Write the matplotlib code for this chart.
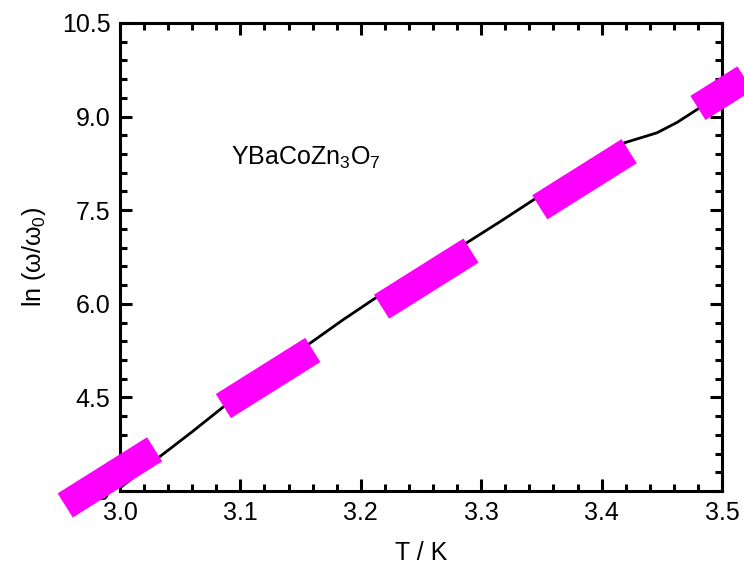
import numpy as np
import matplotlib
matplotlib.use("Agg")
import matplotlib.pyplot as plt
from matplotlib.ticker import MultipleLocator, FormatStrFormatter

plt.rcParams['font.family'] = ['Liberation Sans', 'DejaVu Sans']
plt.rcParams['mathtext.fontset'] = 'custom'
plt.rcParams['mathtext.rm'] = 'Liberation Sans'
plt.rcParams['mathtext.it'] = 'Liberation Sans'
plt.rcParams['mathtext.default'] = 'regular'
plt.rcParams['lines.scale_dashes'] = False

# measured curve
T = [3.000, 3.033, 3.060, 3.086, 3.120, 3.158, 3.185, 3.212, 3.250, 3.289,
     3.316, 3.343, 3.380, 3.419, 3.446, 3.463, 3.479, 3.500]
ln_ratio = [3.05, 3.55, 3.95, 4.35, 4.85, 5.37, 5.74, 6.09, 6.55, 6.99,
            7.32, 7.66, 8.12, 8.58, 8.74, 8.91, 9.11, 9.36]

# linear fit: ln(w/w0) = fit_intercept + fit_slope * (T - fit_T0)
fit_T0 = 3.0
fit_intercept = 3.32
fit_slope = 12.12
fit_T = [2.85, 3.58]

xticks = [3.0, 3.1, 3.2, 3.3, 3.4, 3.5]
yticks = [3.0, 4.5, 6.0, 7.5, 9.0, 10.5]

fig = plt.figure(figsize=(7.44, 5.69), dpi=100)
ax = fig.add_axes([0.1613, 0.1371, 0.8091, 0.8225])

ax.plot(T, ln_ratio, color='black', lw=2.0, zorder=3)

fit_x = np.array(fit_T)
fit_y = fit_intercept + fit_slope * (fit_x - fit_T0)
ax.plot(fit_x, fit_y, color='#FF00FF', lw=20.5,
        linestyle=(78.2, (76.0, 58.5)), dash_capstyle='butt',
        clip_on=False, zorder=6)

ax.set_xlim(3.0, 3.5)
ax.set_ylim(3.0, 10.5)
ax.set_xticks(xticks)
ax.set_yticks(yticks)
ax.xaxis.set_minor_locator(MultipleLocator(0.02))
ax.yaxis.set_minor_locator(MultipleLocator(0.3))
ax.xaxis.set_major_formatter(FormatStrFormatter('%.1f'))
ax.yaxis.set_major_formatter(FormatStrFormatter('%.1f'))

ax.tick_params(which='both', direction='in', top=True, right=True,
               width=2.2, labelsize=18, pad=7)
ax.tick_params(which='major', length=8.6)
ax.tick_params(which='minor', length=5.0)
for sp in ax.spines.values():
    sp.set_linewidth(2.2)

ax.set_xlabel('T / K', fontsize=18, labelpad=12)
ax.set_ylabel(r'ln ($\omega$/$\omega_0$)', fontsize=18, labelpad=10)

ax.text(0.185, 0.712, r'YBaCoZn$_3$O$_7$', transform=ax.transAxes,
        fontsize=18, ha='left', va='center')

fig.savefig('out.png', dpi=100)
